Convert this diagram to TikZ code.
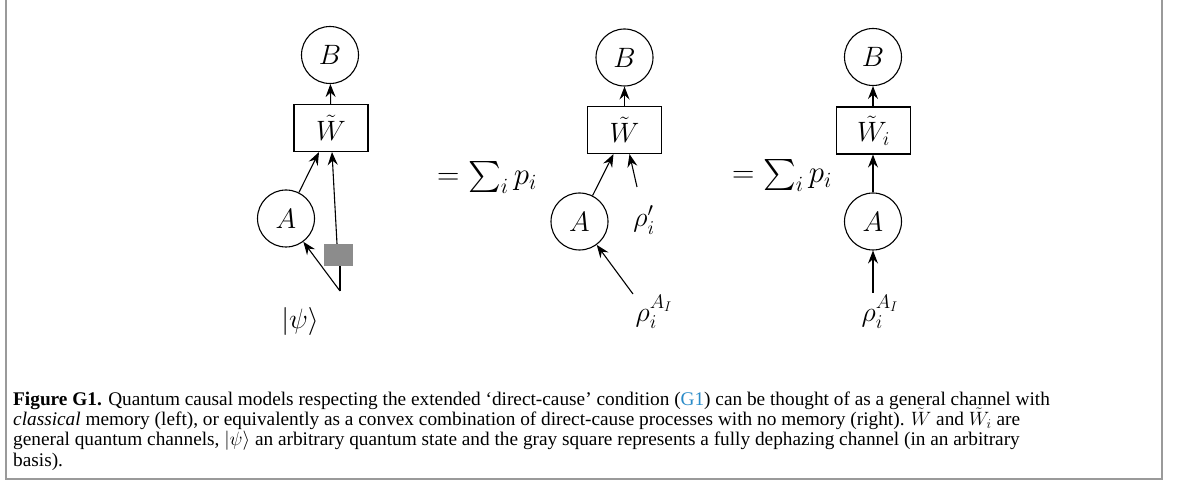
\RequirePackage{fix-cm}
\documentclass[tikz,border=0pt]{standalone}
\DeclareFontFamily{OMX}{cmex}{}
\DeclareFontShape{OMX}{cmex}{m}{n}{<-> cmex10}{}
\usepackage{fontspec}
\newfontfamily\capfont{Liberation Serif}
\usetikzlibrary{arrows.meta}
\definecolor{capblue}{HTML}{2A8BC8}
\definecolor{framegray}{HTML}{9A9A9A}
\definecolor{sqgray}{HTML}{8C8C8C}
\begin{document}
\begin{tikzpicture}[x=1pt,y=-1pt,
  lab/.style={font=\fontsize{28}{34}\selectfont, inner sep=0pt},
  eqlab/.style={font=\fontsize{31}{36}\selectfont, inner sep=0pt, anchor=base west},
  circ/.style={lab, circle, draw, line width=1.1pt, minimum size=57pt},
  chan/.style={lab, rectangle, draw, line width=1.1pt, minimum width=74pt, minimum height=47pt},
  arr/.style={line width=1.1pt, -{Stealth[length=13pt,width=10pt,inset=4.5pt]}},
  plain/.style={line width=1.1pt},
  capline/.style={anchor=base west, inner sep=0pt, font=\capfont\fontsize{19.3}{20}\selectfont}
]
\useasboundingbox (0,0) rectangle (1179,481);
% frame
\draw[framegray, line width=1.6pt] (6,0) -- (6,479) -- (1162,479) -- (1162,0);

% ---------- left diagram ----------
\node[circ] (B1) at (330,55) {$B$};
\node[chan] (W1) at (331,128) {$\tilde{W}$};
\node[circ] (A1) at (286,218.5) {$A$};
\node[fill=sqgray, minimum width=29pt, minimum height=22pt, inner sep=0pt] (sq) at (338.5,255) {};
\coordinate (v1) at (340,291);
\node[lab] (psi) at (300,321) {$|\psi\rangle$};
\draw[arr] (W1) -- (B1);
\draw[arr] (A1) -- ([xshift=-12pt]W1.south);
\draw[arr] ([xshift=-1.5pt]sq.north) -- ([xshift=1pt]W1.south);
\draw[plain] (v1) -- (v1 |- sq.south);
\draw[arr] (v1) -- (A1);

% ---------- middle diagram ----------
\node[eqlab] (eq1) at (437,185) {$=\sum_i p_i$};
\node[circ] (B2) at (624.5,57.5) {$B$};
\node[chan] (W2) at (624.5,130) {$\tilde{W}$};
\node[circ] (A2) at (579.5,221.5) {$A$};
\node[lab] (rp) at (644,220) {$\rho_i'$};
\coordinate (rpt) at (637,187);
\node[lab] (r2) at (654,312) {$\rho_i^{A_I}$};
\coordinate (r2t) at (633,294);
\draw[arr] (W2) -- (B2);
\draw[arr] (A2) -- ([xshift=-11pt]W2.south);
\draw[arr] (rpt) -- ([xshift=5pt]W2.south);
\draw[arr] (r2t) -- (A2);

% ---------- right diagram ----------
\node[eqlab] (eq2) at (732,183) {$=\sum_i p_i$};
\node[circ] (B3) at (873,57) {$B$};
\node[chan] (W3) at (873.5,130.5) {$\tilde{W}_i$};
\node[circ] (A3) at (873,221.5) {$A$};
\node[lab] (r3) at (880,312) {$\rho_i^{A_I}$};
\coordinate (r3t) at (873,293);
\draw[arr] (W3.north -| B3) -- (B3);
\draw[arr] (A3) -- (A3 |- W3.south);
\draw[arr] (r3t) -- (A3);

% ---------- caption ----------
\node[capline] (c1) at (13,405) {\textbf{Figure G1.} Quantum causal models respecting the extended ‘direct-cause’ condition (\textcolor{capblue}{G1}) can be thought of as a general channel with};
\node[capline] (c2) at (13,425.3) {\textit{classical} memory (left), or equivalently as a convex combination of direct-cause processes with no memory (right). $\tilde{W}$ and $\tilde{W}_i$ are};
\node[capline] (c3) at (13,445.6) {general quantum channels, $|\psi\rangle$ an arbitrary quantum state and the gray square represents a fully dephazing channel (in an arbitrary};
\node[capline] (c4) at (13,466) {basis).};
\end{tikzpicture}
\end{document}
